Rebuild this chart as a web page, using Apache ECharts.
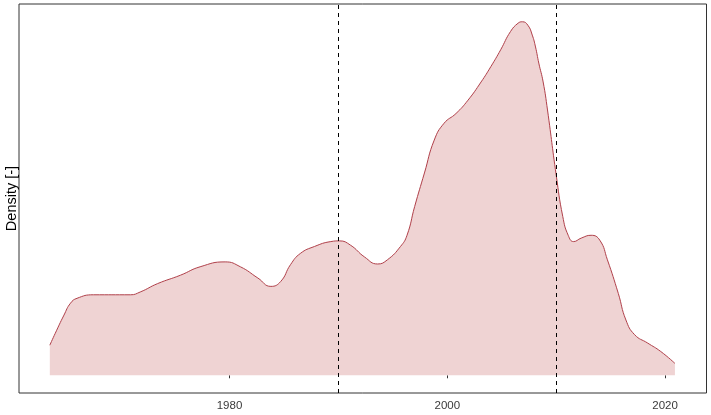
<!DOCTYPE html>
<html>
<head>
    <meta charset="utf-8">
    <title>density</title>
    <script src="https://cdn.jsdelivr.net/npm/echarts@6/dist/echarts.min.js"></script>
</head>
<body style="margin:0;background-color:#fff;">
    <div id="main" style="width:711px;height:415px;"></div>

    <script type="text/javascript">
        // years and estimated kernel density
        var years = [1963.5, 1964.0, 1964.8, 1965.4, 1966.0, 1967.5, 1970.9, 1971.8, 1973.4, 1975.5,
                     1977.3, 1979.6, 1981.0, 1982.6, 1983.8, 1984.7, 1985.6, 1986.5, 1987.8, 1989.3,
                     1990.1, 1991.1, 1992.4, 1993.6, 1994.5, 1995.7, 1996.3, 1997.0, 1997.9, 1998.8,
                     1999.7, 2000.8, 2001.9, 2003.1, 2004.0, 2004.9, 2005.8, 2006.5, 2006.9, 2007.4,
                     2007.8, 2008.1, 2008.4, 2008.8, 2009.2, 2010.0, 2010.6, 2011.1, 2011.6, 2012.3,
                     2013.2, 2014.0, 2014.7, 2015.7, 2016.4, 2017.2, 2018.4, 2019.6, 2020.9];
        var density = [0.0043, 0.0060, 0.0086, 0.0103, 0.0110, 0.0115, 0.0115, 0.0119, 0.0131, 0.0143,
                       0.0155, 0.0162, 0.0155, 0.0139, 0.0127, 0.0134, 0.0158, 0.0174, 0.0184, 0.0191,
                       0.0192, 0.0186, 0.0169, 0.0159, 0.0165, 0.0184, 0.0200, 0.0241, 0.0289, 0.0336,
                       0.0360, 0.0374, 0.0393, 0.0419, 0.0441, 0.0465, 0.0491, 0.0503, 0.0505, 0.0500,
                       0.0486, 0.0469, 0.0446, 0.0419, 0.0379, 0.0286, 0.0227, 0.0200, 0.0191, 0.0196,
                       0.0200, 0.0193, 0.0165, 0.0117, 0.0079, 0.0058, 0.0046, 0.0034, 0.0017];
        var tickYears = [1980, 2000, 2020];
        var periodBreaks = [1990, 2010];

        var points = [];
        for (var i = 0; i < years.length; i++) {
            points.push([years[i], density[i]]);
        }

        var myChart = echarts.init(document.getElementById('main'));

        var option = {
            backgroundColor: '#fff',
            animation: false,
            grid: {
                left: 19, right: 4.5, top: 4, bottom: 22,
                containLabel: false,
                outerBoundsMode: 'none',
                show: true,
                borderColor: '#333',
                borderWidth: 1,
                backgroundColor: 'transparent'
            },
            xAxis: {
                type: 'value',
                min: 1960.67,
                max: 2023.8,
                splitLine: { show: false },
                axisLine: { show: false },
                axisTick: {
                    show: true,
                    length: 3,
                    lineStyle: { color: '#333' },
                    customValues: tickYears
                },
                axisLabel: {
                    margin: 7,
                    color: '#3a3a3a',
                    fontSize: 11.5,
                    fontFamily: 'Liberation Sans Narrow, Arial Narrow, Liberation Sans, sans-serif',
                    customValues: tickYears,
                    formatter: function (v) { return String(v); }
                }
            },
            yAxis: {
                type: 'value',
                min: -0.00253,
                max: 0.05304,
                name: 'Density [-]',
                nameLocation: 'middle',
                nameGap: 0,
                nameTextStyle: {
                    color: '#000',
                    fontSize: 14.5,
                    fontFamily: 'Liberation Sans, Arial, sans-serif'
                },
                splitLine: { show: false },
                axisLine: { show: false },
                axisTick: { show: false },
                axisLabel: { show: false }
            },
            series: [{
                type: 'line',
                data: points,
                smooth: 0.5,
                symbol: 'none',
                lineStyle: { color: '#B0404A', width: 1 },
                areaStyle: { color: '#EFD3D3', opacity: 1, origin: 0 },
                markLine: {
                    silent: true,
                    symbol: 'none',
                    label: { show: false },
                    lineStyle: { color: '#000', type: [4, 4], width: 1 },
                    data: periodBreaks.map(function (y) { return { xAxis: y }; })
                }
            }]
        };

        myChart.setOption(option);
    </script>
</body>
</html>
